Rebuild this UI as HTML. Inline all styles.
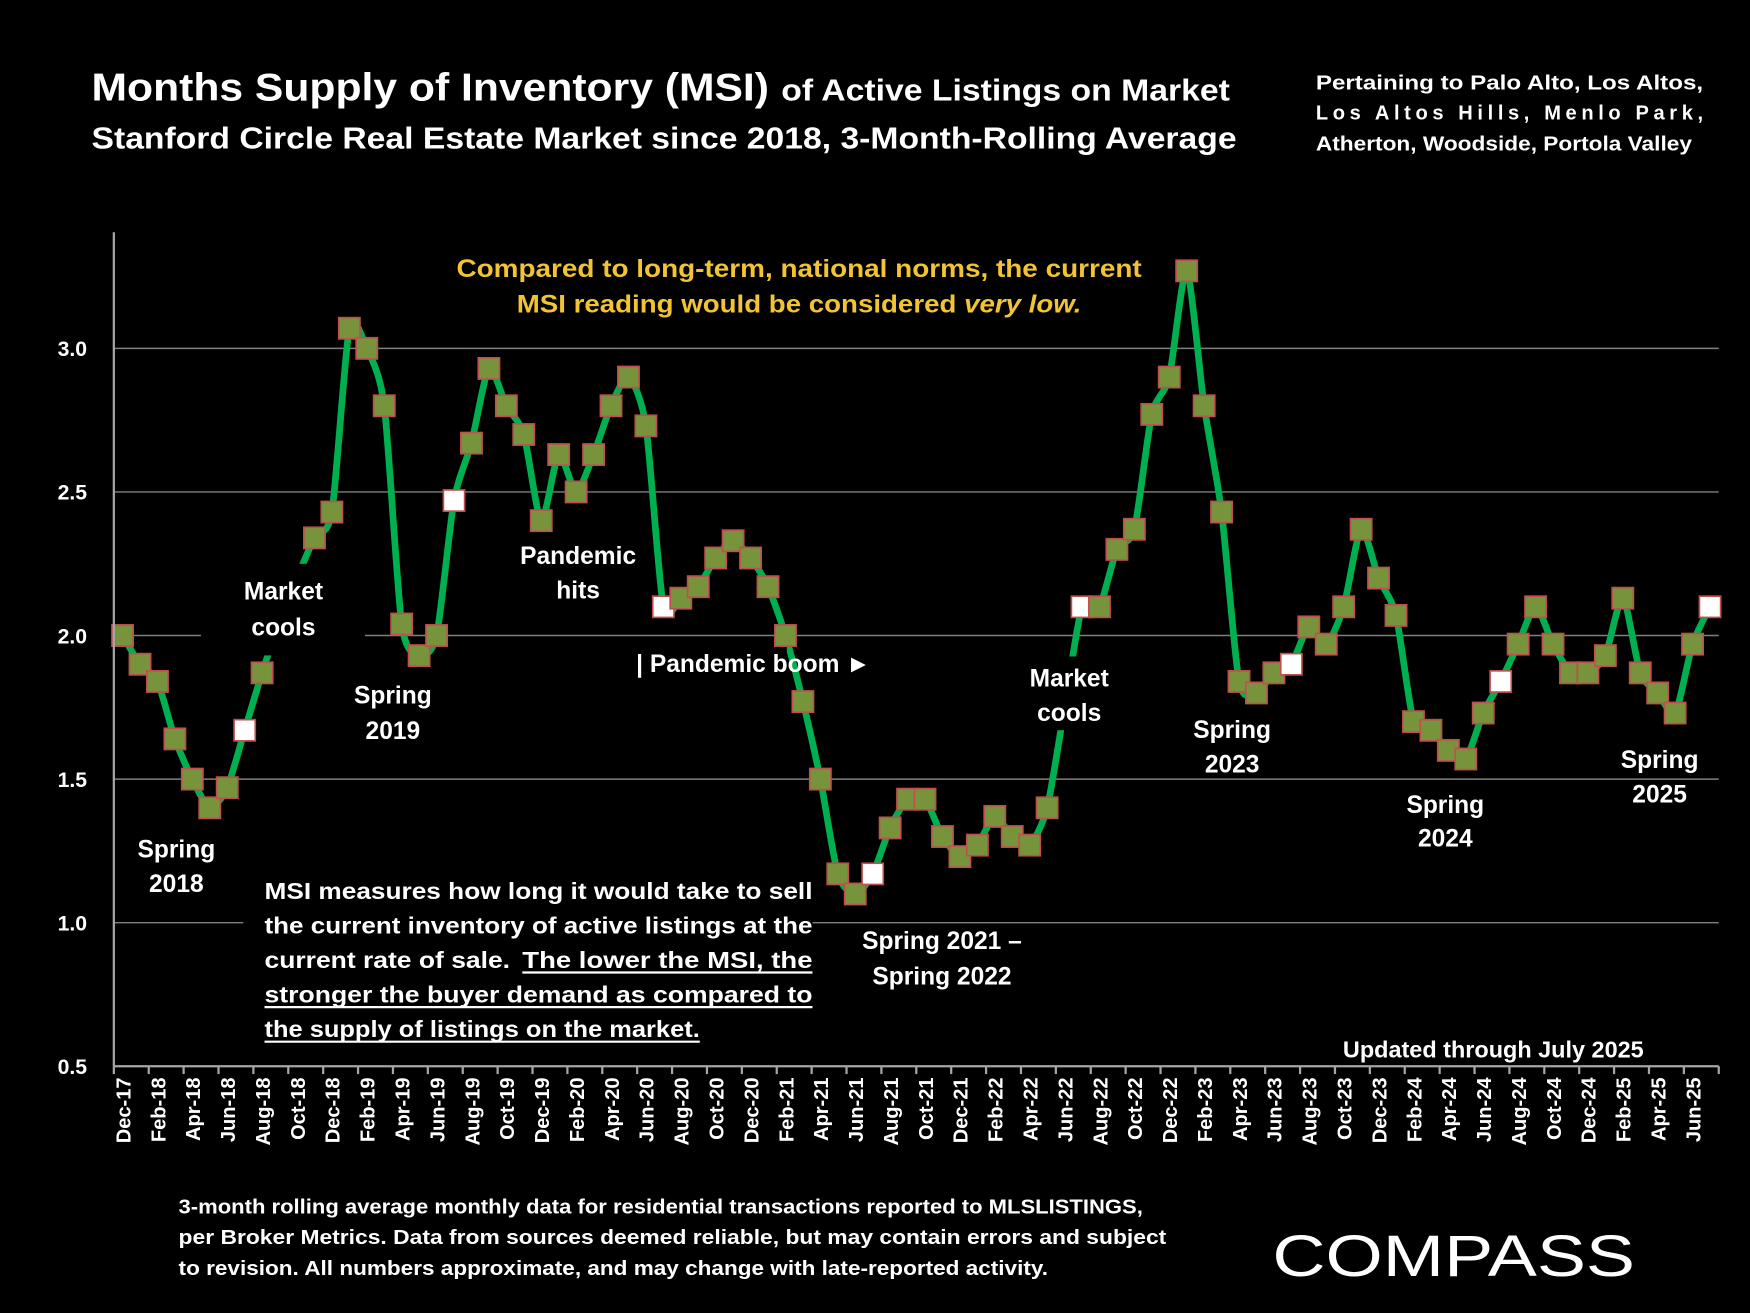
<!DOCTYPE html>
<html><head><meta charset="utf-8"><style>
html,body{margin:0;padding:0;background:#000;}
svg{display:block;}
text{font-family:"Liberation Sans",sans-serif;font-weight:bold;fill:#fff;}
</style></head><body>
<svg id="chart" width="1750" height="1313" viewBox="0 0 1568 1176" preserveAspectRatio="none" xmlns="http://www.w3.org/2000/svg">
<rect width="1568" height="1176" fill="#000"/>
<g>
<text x="82" y="90" font-size="35" textLength="607" lengthAdjust="spacingAndGlyphs">Months Supply of Inventory (MSI)</text>
<text x="700" y="90" font-size="27" textLength="402" lengthAdjust="spacingAndGlyphs">of Active Listings on Market</text>
<text x="82" y="133" font-size="27" textLength="1026" lengthAdjust="spacingAndGlyphs">Stanford Circle Real Estate Market since 2018, 3-Month-Rolling Average</text>
</g>
<g font-size="18">
<text x="1179" y="80" textLength="347" lengthAdjust="spacingAndGlyphs">Pertaining to Palo Alto, Los Altos,</text>
<text x="1179" y="107" textLength="347" lengthAdjust="spacing">Los Altos Hills, Menlo Park,</text>
<text x="1179" y="135" textLength="337" lengthAdjust="spacingAndGlyphs">Atherton, Woodside, Portola Valley</text>
</g>
<g id="grid"></g>
<g id="series"></g>
<g id="boxes"></g>
<g id="marks"></g>
<g id="axes"></g>
<g font-size="22" text-anchor="middle">
<text x="716" y="248" style="fill:#f2c433" textLength="614" lengthAdjust="spacingAndGlyphs">Compared to long-term, national norms, the current</text>
<text x="716" y="280" style="fill:#f2c433" textLength="506" lengthAdjust="spacingAndGlyphs">MSI reading would be considered <tspan font-style="italic">very low.</tspan></text>
<text x="158" y="768">Spring</text><text x="158" y="799">2018</text>
<text x="254" y="537">Market</text><text x="254" y="569">cools</text>
<text x="352" y="630">Spring</text><text x="352" y="662">2019</text>
<text x="518" y="505">Pandemic</text><text x="518" y="536">hits</text>
<text x="675" y="602">| Pandemic boom ►</text>
<text x="958" y="615">Market</text><text x="958" y="646">cools</text>
<text x="844" y="850">Spring 2021 –</text><text x="844" y="882">Spring 2022</text>
<text x="1104" y="661">Spring</text><text x="1104" y="692">2023</text>
<text x="1295" y="728">Spring</text><text x="1295" y="758">2024</text>
<text x="1487" y="688">Spring</text><text x="1487" y="719">2025</text>
<text x="1338" y="947" font-size="21">Updated through July 2025</text>
</g>
<g font-size="21">
<text x="237" y="805" textLength="491" lengthAdjust="spacingAndGlyphs">MSI measures how long it would take to sell</text>
<text x="237" y="836" textLength="491" lengthAdjust="spacingAndGlyphs">the current inventory of active listings at the</text>
<text x="237" y="867" textLength="220" lengthAdjust="spacingAndGlyphs">current rate of sale.</text>
<text x="468" y="867" textLength="260" lengthAdjust="spacingAndGlyphs">The lower the MSI, the</text>
<text x="237" y="898" textLength="491" lengthAdjust="spacingAndGlyphs">stronger the buyer demand as compared to</text>
<text x="237" y="929" textLength="390" lengthAdjust="spacingAndGlyphs">the supply of listings on the market.</text>
<line x1="468" y1="871" x2="728" y2="871" stroke="#fff" stroke-width="2"/>
<line x1="237" y1="902" x2="728" y2="902" stroke="#fff" stroke-width="2"/>
<line x1="237" y1="933" x2="627" y2="933" stroke="#fff" stroke-width="2"/>
</g>
<g font-size="18">
<text x="160" y="1087" textLength="864" lengthAdjust="spacingAndGlyphs">3-month rolling average monthly data for residential transactions reported to MLSLISTINGS,</text>
<text x="160" y="1114" textLength="885" lengthAdjust="spacingAndGlyphs">per Broker Metrics. Data from sources deemed reliable, but may contain errors and subject</text>
<text x="160" y="1142" textLength="779" lengthAdjust="spacingAndGlyphs">to revision. All numbers approximate, and may change with late-reported activity.</text>
</g>
<g>
<text x="1140" y="1143" font-size="52" style="font-weight:normal" textLength="325" lengthAdjust="spacingAndGlyphs">COMPASS</text>
</g>
</svg>
<script>
const tickLabels = ["Dec-17","Feb-18","Apr-18","Jun-18","Aug-18","Oct-18","Dec-18","Feb-19","Apr-19","Jun-19","Aug-19","Oct-19","Dec-19","Feb-20","Apr-20","Jun-20","Aug-20","Oct-20","Dec-20","Feb-21","Apr-21","Jun-21","Aug-21","Oct-21","Dec-21","Feb-22","Apr-22","Jun-22","Aug-22","Oct-22","Dec-22","Feb-23","Apr-23","Jun-23","Aug-23","Oct-23","Dec-23","Feb-24","Apr-24","Jun-24","Aug-24","Oct-24","Dec-24","Feb-25","Apr-25","Jun-25"];
const msiValues = [2.00,1.90,1.84,1.64,1.50,1.40,1.47,1.67,1.87,2.05,2.20,2.34,2.43,3.07,3.00,2.80,2.04,1.93,2.00,2.47,2.67,2.93,2.80,2.70,2.40,2.63,2.50,2.63,2.80,2.90,2.73,2.10,2.13,2.17,2.27,2.33,2.27,2.17,2.00,1.77,1.50,1.17,1.10,1.17,1.33,1.43,1.43,1.30,1.23,1.27,1.37,1.30,1.27,1.40,1.75,2.10,2.10,2.30,2.37,2.77,2.90,3.27,2.80,2.43,1.84,1.80,1.87,1.90,2.03,1.97,2.10,2.37,2.20,2.07,1.70,1.67,1.60,1.57,1.73,1.84,1.97,2.10,1.97,1.87,1.87,1.93,2.13,1.87,1.80,1.73,1.97,2.10];
const whiteMarkers = [7,19,31,43,55,67,79,91];
const hiddenMarkers = [9,10,54];
const yTicks = [0.5,1.0,1.5,2.0,2.5,3.0];

const NS="http://www.w3.org/2000/svg";
const X0=102, X1=1540, Y0=955, YTOP=208;
const slot=(X1-X0)/msiValues.length;
const xPos=i=>X0+slot*(i+0.5);
const yPos=v=>Y0-(v-0.5)*(Y0-312)/2.5;
function mk(tag,attrs,parent){const e=document.createElementNS(NS,tag);for(const k in attrs)e.setAttribute(k,attrs[k]);parent.appendChild(e);return e;}
const grid=document.getElementById('grid'),series=document.getElementById('series'),boxes=document.getElementById('boxes'),marks=document.getElementById('marks'),axes=document.getElementById('axes');
yTicks.forEach(v=>{
  if(v>0.5){const g=mk('line',{x1:X0,x2:X1,y1:yPos(v),y2:yPos(v),stroke:'#7f7f7f','stroke-width':1.3},grid);
  
  }
  const t=mk('text',{x:78,y:yPos(v)+7,'text-anchor':'end','font-size':19},axes);t.textContent=v.toFixed(1);
  
  
});
const pts=msiValues.map((v,i)=>[xPos(i),yPos(v)]);
let d='M'+pts[0][0]+','+pts[0][1];
for(let i=0;i<pts.length-1;i++){
  const p0=pts[Math.max(0,i-1)],p1=pts[i],p2=pts[i+1],p3=pts[Math.min(pts.length-1,i+2)];
  const t=0.12;
  d+=' C'+(p1[0]+(p2[0]-p0[0])*t)+','+(p1[1]+(p2[1]-p0[1])*t)+' '+(p2[0]-(p3[0]-p1[0])*t)+','+(p2[1]-(p3[1]-p1[1])*t)+' '+p2[0]+','+p2[1];
}
const path=mk('path',{d:d,fill:'none',stroke:'#00b050','stroke-width':6,'stroke-linejoin':'round'},series);


[[180,505,147,82],[545,575,160,40],[218,782,510,160],[912,588,92,66]].forEach(b=>{
  const r=mk('rect',{x:b[0],y:b[1],width:b[2],height:b[3],fill:'#000'},boxes);
  
  
});
msiValues.forEach((v,i)=>{
  if(hiddenMarkers.includes(i))return;
  const w=whiteMarkers.includes(i);
  const r=mk('rect',{x:xPos(i)-9.5,y:yPos(v)-9.5,width:19,height:19,fill:w?'#ffffff':'#77933c',stroke:'#c0504d','stroke-width':1.5},marks);
  
  
});
const ya=mk('line',{x1:X0,x2:X0,y1:YTOP,y2:Y0,stroke:'#a6a6a6','stroke-width':2},axes);


const xa=mk('line',{x1:X0,x2:X1,y1:Y0,y2:Y0,stroke:'#a6a6a6','stroke-width':2},axes);


for(let i=0;i<=msiValues.length;i+=2){
  const tk=mk('line',{x1:X0+slot*i,x2:X0+slot*i,y1:Y0,y2:Y0+7,stroke:'#a6a6a6','stroke-width':2},axes);
  
  
}
tickLabels.forEach((lab,k)=>{
  const x=xPos(k*2)+7, y=Y0+10;
  const t=mk('text',{x:x,y:y,'text-anchor':'end','font-size':18,transform:'rotate(-90 '+x+' '+y+')'},axes);
  t.textContent=lab;
  
  
});
</script>
</body></html>
